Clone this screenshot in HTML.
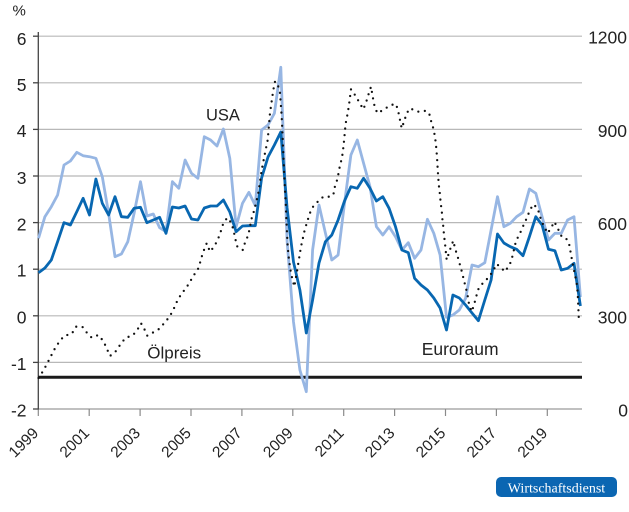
<!DOCTYPE html>
<html><head><meta charset="utf-8"><style>
html,body{margin:0;padding:0;background:#fff;}
svg{display:block;}
text{font-family:"Liberation Sans",sans-serif;fill:#222;}
</style></head><body>
<svg width="629" height="512" viewBox="0 0 629 512" xmlns="http://www.w3.org/2000/svg">
<rect width="629" height="512" fill="#fff"/>
<g stroke="#b8b8b8" stroke-width="1.2">
<line x1="38" y1="36.2" x2="582" y2="36.2"/>
<line x1="38" y1="82.8" x2="582" y2="82.8"/>
<line x1="38" y1="129.4" x2="582" y2="129.4"/>
<line x1="38" y1="176" x2="582" y2="176"/>
<line x1="38" y1="222.6" x2="582" y2="222.6"/>
<line x1="38" y1="269.2" x2="582" y2="269.2"/>
<line x1="38" y1="315.8" x2="582" y2="315.8"/>
<line x1="38" y1="362.4" x2="582" y2="362.4"/>
</g>
<line x1="38" y1="409" x2="582" y2="409" stroke="#9a9a9a" stroke-width="1.2"/>
<g stroke="#8a8a8a" stroke-width="1.2">
<line x1="38.3" y1="409" x2="38.3" y2="416"/>
<line x1="89.2" y1="409" x2="89.2" y2="416"/>
<line x1="140.1" y1="409" x2="140.1" y2="416"/>
<line x1="191" y1="409" x2="191" y2="416"/>
<line x1="241.9" y1="409" x2="241.9" y2="416"/>
<line x1="292.8" y1="409" x2="292.8" y2="416"/>
<line x1="343.7" y1="409" x2="343.7" y2="416"/>
<line x1="394.6" y1="409" x2="394.6" y2="416"/>
<line x1="445.5" y1="409" x2="445.5" y2="416"/>
<line x1="496.4" y1="409" x2="496.4" y2="416"/>
<line x1="547.3" y1="409" x2="547.3" y2="416"/>
</g>
<g stroke="#444" stroke-width="1.3">
<line x1="38.3" y1="32" x2="38.3" y2="409.5"/>
<line x1="33" y1="36.2" x2="38.3" y2="36.2"/>
<line x1="33" y1="82.8" x2="38.3" y2="82.8"/>
<line x1="33" y1="129.4" x2="38.3" y2="129.4"/>
<line x1="33" y1="176" x2="38.3" y2="176"/>
<line x1="33" y1="222.6" x2="38.3" y2="222.6"/>
<line x1="33" y1="269.2" x2="38.3" y2="269.2"/>
<line x1="33" y1="315.8" x2="38.3" y2="315.8"/>
<line x1="33" y1="362.4" x2="38.3" y2="362.4"/>
<line x1="33" y1="409" x2="38.3" y2="409"/>
</g>
<line x1="38" y1="377.3" x2="582" y2="377.3" stroke="#1a1a1a" stroke-width="3"/>

<g font-size="17.5" text-anchor="end">
<text x="26.5" y="45">6</text>
<text x="26.5" y="91">5</text>
<text x="26.5" y="137">4</text>
<text x="26.5" y="184">3</text>
<text x="26.5" y="230.5">2</text>
<text x="26.5" y="276.7">1</text>
<text x="26.5" y="323.3">0</text>
<text x="26.5" y="369.9">-1</text>
<text x="26.5" y="416.3">-2</text>
<text x="627" y="43.5">1200</text>
<text x="627" y="136.9">900</text>
<text x="627" y="230.1">600</text>
<text x="627" y="323.3">300</text>
<text x="628" y="416.3">0</text>
</g>
<text x="12.5" y="15.5" font-size="15">%</text>

<g font-size="15.5" text-anchor="end">
<text transform="translate(39.3,434) rotate(-45)">1999</text>
<text transform="translate(90.2,434) rotate(-45)">2001</text>
<text transform="translate(141.1,434) rotate(-45)">2003</text>
<text transform="translate(192,434) rotate(-45)">2005</text>
<text transform="translate(242.9,434) rotate(-45)">2007</text>
<text transform="translate(293.8,434) rotate(-45)">2009</text>
<text transform="translate(344.7,434) rotate(-45)">2011</text>
<text transform="translate(395.6,434) rotate(-45)">2013</text>
<text transform="translate(446.5,434) rotate(-45)">2015</text>
<text transform="translate(497.4,434) rotate(-45)">2017</text>
<text transform="translate(548.3,434) rotate(-45)">2019</text>
</g>

<polyline fill="none" stroke="#97b6e3" stroke-width="2.8" stroke-linejoin="round" points="
38.5,238.3 44.9,216.7 51.3,206.7 57.6,195 64,165 70.4,161 76.8,152.3 83.1,155.7 89.5,156.7 95.9,158.3
102.3,176.7 108.6,213.3 115,256.7 121.4,254 127.8,241.7 134.1,213.3 140.5,181.7 146.9,216 153.3,214 159.6,227.7
166,231.7 172.4,181.7 178.8,188.3 185.1,160 191.5,173.3 197.9,178.3 204.3,136.7 210.6,140 217,146 223.4,129
229.8,158.3 236.1,226.7 242.5,203.3 248.9,192.3 255.3,205.7 261.6,130 268,125 274.4,113.3 280.8,67.3 287.1,241
293.5,322 299.9,370 306.3,391.7 312.6,250 319,205 325.4,233 331.8,260 338.1,255 344.5,203.3 350.9,155
357.3,140 363.6,163.3 370,186.7 376.4,226.7 382.8,235 389.1,226.7 395.5,236.7 401.9,250 408.3,242.7 414.6,258.3
421,250 427.4,219.3 433.8,233.3 440.1,255 446.5,317.3 452.9,315 459.3,310 465.6,298.3 472,265 478.4,266.7
484.8,262.7 491.1,230 497.5,196.7 503.9,226.7 510.3,223.3 516.6,216.7 523,212.3 529.4,189 535.8,193.3 542.1,216.7
548.5,240 554.9,233.3 561.3,233.3 567.6,220 574,216.7 580.4,297"/>

<polyline fill="none" stroke="#0867b1" stroke-width="2.8" stroke-linejoin="round" points="
38.5,272.7 44.9,268 51.3,260 57.6,241.7 64,222.7 70.4,225 76.8,211.7 83.1,198.3 89.5,215 95.9,179
102.3,203.3 108.6,215 115,196.7 121.4,216.7 127.8,217.3 134.1,208.3 140.5,207.3 146.9,222.7 153.3,220 159.6,217.3
166,233.3 172.4,207 178.8,208 185.1,206 191.5,219 197.9,220 204.3,208 210.6,206 217,206 223.4,200
229.8,212 236.1,231.7 242.5,226 248.9,225.7 255.3,225.7 261.6,178 268,157 274.4,145 280.8,132 287.1,208
293.5,262 299.9,290 306.3,333 312.6,300 319,263 325.4,241.7 331.8,235 338.1,220 344.5,201 350.9,186.7
357.3,188.3 363.6,178.3 370,188.3 376.4,201 382.8,196.7 389.1,208.3 395.5,226.7 401.9,250 408.3,252.7 414.6,278.3
421,285 427.4,290 433.8,298 440.1,308 446.5,330 452.9,295 459.3,298 465.6,305 472,313 478.4,320.7
484.8,300 491.1,280 497.5,234 503.9,243 510.3,246.7 516.6,249.3 523,255.7 529.4,236.7 535.8,216.7 542.1,225
548.5,249.3 554.9,250.7 561.3,270 567.6,268.3 574,263.3 580.4,306"/>

<polyline fill="none" stroke="#111" stroke-width="2.3" stroke-linecap="round" stroke-linejoin="round" stroke-dasharray="0 6.6" points="
38.5,378 43.3,370.7 47.3,363.3 51,356 55,348.3 59.3,341.7 64.3,335.7 71.7,334 76,326.7 82.3,326.7 87.3,333.3 91.7,337.7 98.3,335 103.3,341 106.7,348.3 110,356 116,351 120.7,344 125.7,337.7 132.3,335.7 136.7,331 141,323.3 144,328.3 147.3,335.7 151.7,333.3 159,329 165,322.3 170,316 174,308.3 177.3,300.7 181.7,293.3 186,288.3 190,281.7 194,275 199,267.3 200.7,260 203.3,251.7 206.7,243.3 210,251.7 214,246.7 217.7,240 220.7,231.7 223.3,223.3 227.3,217.7 231.7,223.3 235,236.7 236.7,246 242.7,250 245,242.7 248.3,235 251.7,218.3 254.3,210 258.3,193.3 261.7,170 265,153 267.7,140 270,113 273.3,90 275,81.7 277.3,82.7 280,93 281.7,116.7 283.3,153 284.3,176.7 285.7,203 286.7,226.7 287.7,246.7 289,260 291,273.3 294.3,286.7 296.7,273.3 298.3,263.3 301,246.7 304.3,231.7 306.7,223.3 309.3,215 311.7,208.3 316.7,202.7 323.3,196.7 329.3,196.7 333.3,195 335,186 337.7,178.3 339,170 341,161.7 342.7,153.3 344.3,138.3 345,130 346,121.7 347.7,113.3 349,105 351,89.3 355,95 359.3,102.3 363.3,109.3 366,102.7 368.3,95 371,86.7 373.3,100 375,108.3 377.7,113.3 384,109.3 391,105 396,104 398.3,111.7 400,120 401.7,128.3 404,121.7 406.7,113.3 410,108.3 417.7,111.7 424.3,110.7 429,112.7 431,120.7 433.3,128.3 435,136.7 436,145 436.7,153.3 437.3,161.7 437.7,169.3 438.3,178.3 439,186.7 440,195 440.7,203.3 441.7,210 442.3,218.3 443.3,226.7 444,235 445,243.3 445.7,250.7 446.7,260 448.3,255 451,246.7 453.3,240.7 455,248.3 457.7,256.7 460,265 462.3,273.3 464,280.7 466,288.3 467.7,296 469,304 471.7,311.7 474,305 476,297.3 478.3,289.3 482.7,283.3 487.7,278.3 492.7,271.7 496.7,264 501,267.7 505,271.7 510,264 512.3,256.7 516,241 520,233.3 523.3,225.7 526.7,218.3 530,210 533.3,204.3 537.7,208.3 540,216.7 543.3,225 547.7,233.3 551.7,226.7 554.3,221.7 557.7,228.3 561.7,236.7 566,238.3 569,243.3 571.7,258.3 573.3,266.7 575,275 576.7,283.3 577.7,293.3 578.3,306.7 579,323.3"/>

<text x="206" y="120.7" font-size="16.5">USA</text>
<text x="147.3" y="358.3" font-size="17">Ölpreis</text>
<text x="421.7" y="355" font-size="17.5">Euroraum</text>

<rect x="496" y="477" width="121" height="20" rx="5" ry="5" fill="#0b66b2"/>
<text x="556.5" y="492.5" font-size="14" text-anchor="middle" style="font-family:'Liberation Serif',serif;fill:#fff;">Wirtschaftsdienst</text>
</svg>
</body></html>
